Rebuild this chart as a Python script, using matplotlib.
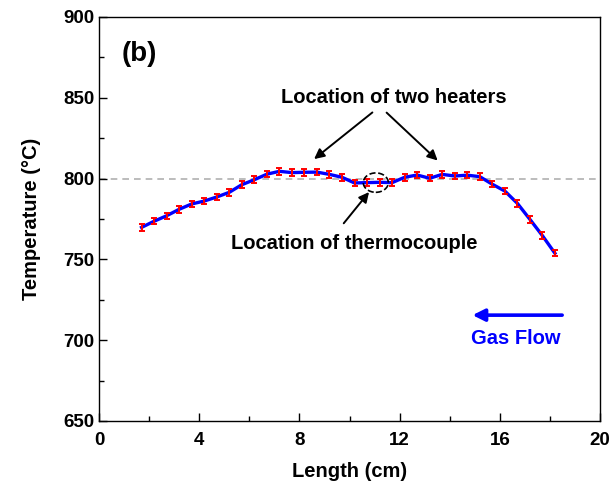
import matplotlib
matplotlib.use("Agg")
import matplotlib.pyplot as plt
from matplotlib.patches import Ellipse
import numpy as np

plt.rcParams['font.family'] = ['Liberation Sans', 'DejaVu Sans']
plt.rcParams['font.weight'] = 'bold'

length_cm = [1.7, 2.2, 2.7, 3.2, 3.7, 4.2, 4.7, 5.2, 5.7, 6.2, 6.7, 7.2, 7.7, 8.2, 8.7,
             9.2, 9.7, 10.2, 10.7, 11.2, 11.7, 12.2, 12.7, 13.2, 13.7, 14.2, 14.7, 15.2,
             15.7, 16.2, 16.7, 17.2, 17.7, 18.2]
temperature = [769.8, 773.6, 777.0, 781.0, 784.3, 786.1, 788.6, 791.5, 796.2, 799.3, 802.7,
               804.5, 803.7, 803.9, 804.0, 802.6, 800.8, 797.3, 797.5, 797.7, 797.5, 800.8,
               802.2, 800.2, 802.6, 801.6, 802.1, 801.2, 796.5, 792.3, 784.7, 774.8, 764.7,
               753.8]
temp_err = [2.0] * len(length_cm)

fig = plt.figure(figsize=(6.13, 4.84), dpi=100)
ax = fig.add_axes([0.1615, 0.1302, 0.8173, 0.8347])

ax.axhline(800, color='#b0b0b0', linestyle='--', linewidth=1.2, dashes=(4, 3), zorder=1)
ax.plot(length_cm, temperature, color='#0000ff', linewidth=2.4, zorder=2)
ax.errorbar(length_cm, temperature, yerr=temp_err, fmt='none', ecolor='#ff0000',
            elinewidth=1.4, capsize=2.3, capthick=1.4, zorder=3)

ax.set_xlim(0, 20)
ax.set_ylim(650, 900)
ax.set_xticks([0, 4, 8, 12, 16, 20])
ax.set_xticks([2, 6, 10, 14, 18], minor=True)
ax.set_yticks([650, 700, 750, 800, 850, 900])
ax.set_yticks([675, 725, 775, 825, 875], minor=True)
ax.tick_params(which='both', direction='in', labelsize=13.5, width=1.0)
ax.tick_params(which='major', length=6)
ax.tick_params(which='minor', length=3.5)
ax.tick_params(axis='x', pad=8)
for lab in ax.get_xticklabels() + ax.get_yticklabels():
    lab.set_fontweight('bold')
for s in ax.spines.values():
    s.set_linewidth(1.0)

ax.set_xlabel('Length (cm)', fontsize=14.5, fontweight='bold', labelpad=9)
ax.set_ylabel('Temperature (°C)', fontsize=14.5, fontweight='bold', labelpad=16)

ax.text(0.045, 0.892, '(b)', transform=ax.transAxes, fontsize=20, fontweight='bold')

ax.text(11.78, 850, 'Location of two heaters', fontsize=14.5, fontweight='bold',
        ha='center', va='center')
ax.annotate('', xy=(8.5, 811), xytext=(11.0, 842),
            arrowprops=dict(arrowstyle='-|>', color='black', lw=1.4, mutation_scale=15))
ax.annotate('', xy=(13.6, 810), xytext=(11.4, 842),
            arrowprops=dict(arrowstyle='-|>', color='black', lw=1.4, mutation_scale=15))

ax.text(10.18, 760, 'Location of thermocouple', fontsize=14.5, fontweight='bold',
        ha='center', va='center')
ax.annotate('', xy=(10.85, 793), xytext=(9.7, 771),
            arrowprops=dict(arrowstyle='-|>', color='black', lw=1.4, mutation_scale=15))
ax.add_patch(Ellipse((11.05, 797.5), 1.0, 12, fill=False, edgecolor='black',
                     linestyle='--', linewidth=1.2, zorder=4))

ax.text(16.65, 701, 'Gas Flow', fontsize=14.5, fontweight='bold', color='#0000ff',
        ha='center', va='center')
ax.annotate('', xy=(14.8, 715.5), xytext=(18.6, 715.5),
            arrowprops=dict(arrowstyle='-|>', color='#0000ff', lw=2.6, mutation_scale=18))

fig.savefig('out.png', dpi=100)
